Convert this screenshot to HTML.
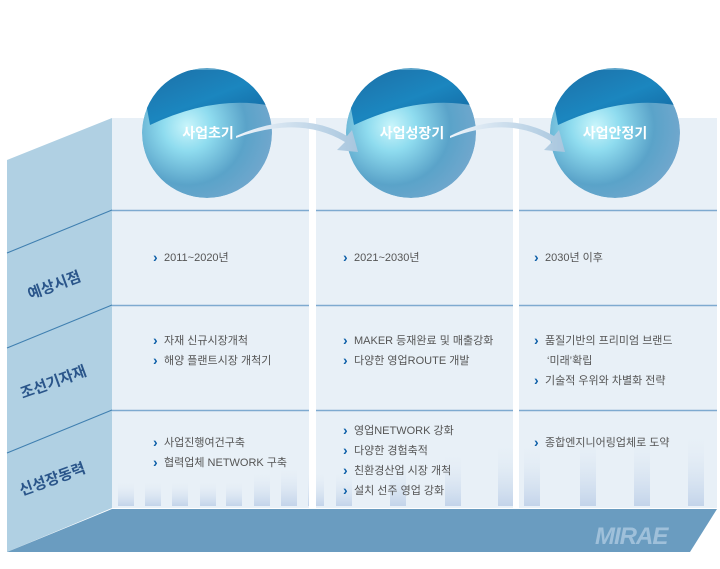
<!DOCTYPE html>
<html><head><meta charset="utf-8"><style>
html,body{margin:0;padding:0;background:#fff;}
svg text{font-family:"Liberation Sans","Noto Sans CJK KR",sans-serif;}
</style></head><body>
<svg width="720" height="564" viewBox="0 0 720 564" xmlns="http://www.w3.org/2000/svg">
<defs>
<radialGradient id="sph" cx="0.35" cy="0.45" r="0.75">
<stop offset="0" stop-color="#c9f5fb"/>
<stop offset="0.25" stop-color="#8fdcef"/>
<stop offset="0.6" stop-color="#5aa3c9"/>
<stop offset="1" stop-color="#7aa9cf"/>
</radialGradient>
<linearGradient id="cap" x1="0" y1="0" x2="1" y2="1">
<stop offset="0" stop-color="#1d6fa6"/>
<stop offset="0.5" stop-color="#1b86bf"/>
<stop offset="1" stop-color="#11609a"/>
</linearGradient>
<linearGradient id="arr" x1="0" y1="0" x2="1" y2="0">
<stop offset="0" stop-color="#eef4fa"/>
<stop offset="1" stop-color="#a8c6de"/>
</linearGradient>
<linearGradient id="bar" x1="0" y1="0" x2="0" y2="1">
<stop offset="0" stop-color="#e8f0f7" stop-opacity="0"/>
<stop offset="1" stop-color="#c3d4ea"/>
</linearGradient>
<clipPath id="c1"><circle cx="207" cy="133" r="65"/></clipPath>
<clipPath id="c2"><circle cx="411" cy="133" r="65"/></clipPath>
<clipPath id="c3"><circle cx="615" cy="133" r="65"/></clipPath>
</defs>
<polygon points="7,160 112,118 112,508 7,552" fill="#b0d0e3"/>
<g stroke="#3f7fb0" stroke-width="1">
<line x1="7" y1="253" x2="112" y2="210"/>
<line x1="7" y1="348" x2="112" y2="305"/>
<line x1="7" y1="453" x2="112" y2="410"/>
</g>
<rect x="112" y="118" width="197" height="390" fill="#e8f0f7"/>
<rect x="316" y="118" width="197" height="390" fill="#e8f0f7"/>
<rect x="519" y="118" width="198" height="390" fill="#e8f0f7"/>
<g fill="url(#bar)">
<rect x="118" y="480" width="16" height="26"/><rect x="145" y="480" width="16" height="26"/>
<rect x="172" y="480" width="16" height="26"/><rect x="200" y="480" width="16" height="26"/>
<rect x="226" y="480" width="16" height="26"/><rect x="254" y="470" width="16" height="36"/>
<rect x="281" y="465" width="16" height="41"/><rect x="308" y="470" width="16" height="36"/>
<rect x="336" y="470" width="16" height="36"/><rect x="390" y="460" width="16" height="46"/>
<rect x="445" y="450" width="16" height="56"/><rect x="498" y="440" width="16" height="66"/>
<rect x="524" y="440" width="16" height="66"/><rect x="580" y="430" width="16" height="76"/>
<rect x="634" y="430" width="16" height="76"/><rect x="688" y="430" width="16" height="76"/>
</g>
<rect x="309" y="118" width="7" height="392" fill="#fff"/>
<rect x="513" y="118" width="6" height="392" fill="#fff"/>
<g stroke="#7eaad0" stroke-width="1.5">
<line x1="112" y1="210.5" x2="717" y2="210.5"/>
<line x1="112" y1="305.5" x2="717" y2="305.5"/>
<line x1="112" y1="410.5" x2="717" y2="410.5"/>
</g>
<g stroke="#fff" stroke-width="7"><line x1="312.5" y1="205" x2="312.5" y2="510"/></g>
<g stroke="#fff" stroke-width="6"><line x1="516" y1="205" x2="516" y2="510"/></g>
<polygon points="112,509 717,509 690,552 7,552" fill="#6a9cc0"/>
<text x="595" y="544" font-size="24" font-weight="bold" font-style="italic" fill="#9fc0da" letter-spacing="-1">MIRAE</text>
<g clip-path="url(#c1)"><circle cx="207" cy="133" r="65" fill="url(#sph)"/><path d="M140,70 L280,70 L280,108 Q220,92 150,125 Z" fill="url(#cap)"/></g>
<g clip-path="url(#c2)"><circle cx="411" cy="133" r="65" fill="url(#sph)"/><path d="M344,70 L484,70 L484,108 Q424,92 354,125 Z" fill="url(#cap)"/></g>
<g clip-path="url(#c3)"><circle cx="615" cy="133" r="65" fill="url(#sph)"/><path d="M548,70 L688,70 L688,108 Q628,92 558,125 Z" fill="url(#cap)"/></g>
<path d="M236,138 Q300,115 345,142 L337,150 L358,152 L352,130 L347,136 Q300,108 236,136 Z" fill="url(#arr)"/>
<path d="M450,138 Q510,115 552,142 L544,150 L565,152 L559,130 L554,136 Q505,108 450,136 Z" fill="url(#arr)"/>
<g font-size="14" font-weight="bold" fill="#fff" text-anchor="middle">
<text x="208" y="138">사업초기</text>
<text x="412" y="138">사업성장기</text>
<text x="615" y="138">사업안정기</text>
</g>
<g font-size="15" fill="#2a558a" font-weight="bold" text-anchor="middle">
<text transform="translate(56,290) rotate(-20)">예상시점</text>
<text transform="translate(55,387) rotate(-20)">조선기자재</text>
<text transform="translate(54,484) rotate(-20)">신성장동력</text>
</g>
<g font-size="11" fill="#555">
<g fill="#0d5fa8" font-weight="bold" font-size="14">
<text x="153" y="262">›</text>
<text x="153" y="345">›</text><text x="153" y="365">›</text>
<text x="153" y="447">›</text><text x="153" y="467">›</text>
<text x="343" y="262">›</text>
<text x="343" y="345">›</text><text x="343" y="365">›</text>
<text x="343" y="435">›</text><text x="343" y="455">›</text><text x="343" y="475">›</text><text x="343" y="495">›</text>
<text x="534" y="262">›</text>
<text x="534" y="345">›</text><text x="534" y="385">›</text>
<text x="534" y="447">›</text>
</g>
<text x="164" y="261">2011~2020년</text>
<text x="164" y="344">자재 신규시장개척</text>
<text x="164" y="364">해양 플랜트시장 개척기</text>
<text x="164" y="446">사업진행여건구축</text>
<text x="164" y="466">협력업체 NETWORK 구축</text>
<text x="354" y="261">2021~2030년</text>
<text x="354" y="344">MAKER 등재완료 및 매출강화</text>
<text x="354" y="364">다양한 영업ROUTE  개발</text>
<text x="354" y="434">영업NETWORK   강화</text>
<text x="354" y="454">다양한 경험축적</text>
<text x="354" y="474">친환경산업 시장 개척</text>
<text x="354" y="494">설치 선주 영업 강화</text>
<text x="545" y="261">2030년 이후</text>
<text x="545" y="344">품질기반의 프리미엄 브랜드</text>
<text x="547" y="364">‘미래’확립</text>
<text x="545" y="384">기술적 우위와 차별화 전략</text>
<text x="545" y="446">종합엔지니어링업체로 도약</text>
</g>
</svg>
</body></html>
